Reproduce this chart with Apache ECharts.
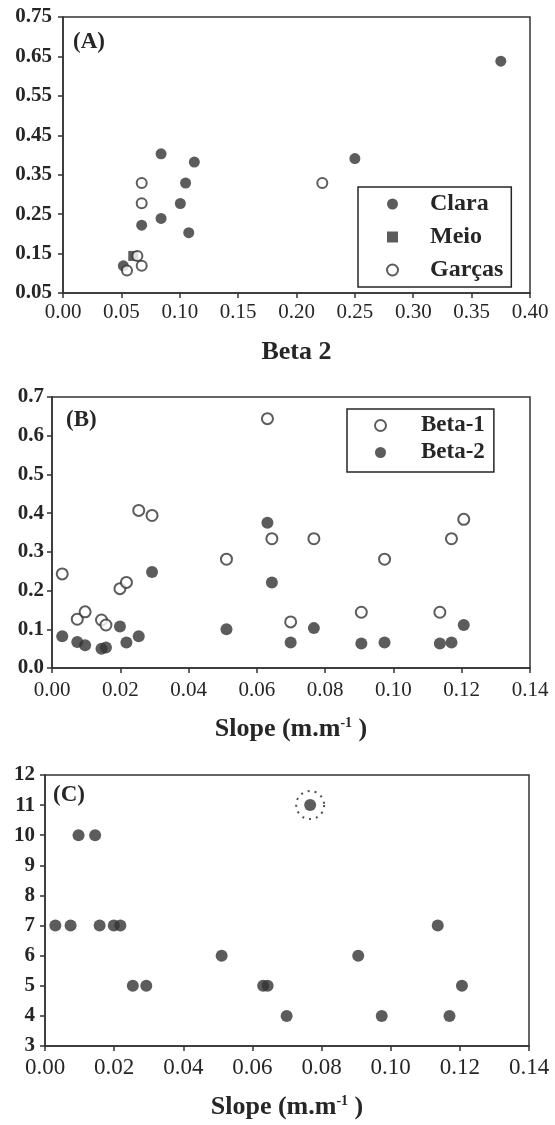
<!DOCTYPE html>
<html>
<head>
<meta charset="utf-8">
<script src="https://cdn.jsdelivr.net/npm/echarts@6/dist/echarts.min.js"></script>
<style>
  html, body { margin: 0; padding: 0; background: #fff; }
  #main { width: 555px; height: 1125px; }
</style>
</head>
<body>
<div id="main"></div>
<script>
// panel A: beta 2 (x) against beta 1 (y), one array per stream
var claraX = [0.084, 0.1125, 0.105, 0.1005, 0.084, 0.0674, 0.1077, 0.0517, 0.375, 0.250];
var claraY = [0.403, 0.382, 0.329, 0.277, 0.239, 0.222, 0.203, 0.119, 0.638, 0.391];
var meioX = [0.0602];
var meioY = [0.144];
var garcasX = [0.0674, 0.0674, 0.0637, 0.0674, 0.0548, 0.2221];
var garcasY = [0.329, 0.2775, 0.144, 0.119, 0.107, 0.329];

// panels B and C: one value per site, same slope for both panels
var slope = [0.0030, 0.0074, 0.0097, 0.0145, 0.0158, 0.0199, 0.0218, 0.0254, 0.0293, 0.0511,
             0.0631, 0.0644, 0.0699, 0.0767, 0.0906, 0.0974, 0.1136, 0.1170, 0.1206];
var beta1 = [0.243, 0.126, 0.145, 0.124, 0.111, 0.205, 0.221, 0.407, 0.394, 0.281,
             0.644, 0.334, 0.119, 0.334, 0.144, 0.281, 0.144, 0.334, 0.384];
var beta2 = [0.082, 0.067, 0.059, 0.050, 0.053, 0.107, 0.066, 0.082, 0.248, 0.100,
             0.375, 0.221, 0.066, 0.103, 0.063, 0.066, 0.063, 0.066, 0.111];
var panelC = [7, 7, 10, 10, 7, 7, 7, 5, 5, 6, 5, 5, 4, 11, 6, 4, 7, 4, 5];
var circledSite = 13; // the point with the dotted ring in (C)

function pairs(xs, ys) {
  return xs.map(function (x, i) { return [x, ys[i]]; });
}

var serif = "'Liberation Serif', 'Times New Roman', serif";
var ink = '#262626';
var dark = '#333333';
var square = 'path://M0,0H10V10H0Z';

function xAxisFor(idx, max, interval, digits, name, gap, labelSize, margin) {
  return {
    gridIndex: idx, type: 'value', min: 0, max: max, interval: interval,
    name: name, nameLocation: 'middle', nameGap: gap,
    nameTextStyle: { fontFamily: serif, fontWeight: 'bold', fontSize: 26, color: ink,
      rich: { sup: { fontFamily: serif, fontWeight: 'bold', fontSize: 14, color: ink, verticalAlign: 'top', padding: [0, 0, 12, 0] } } },
    axisLine: { show: true, onZero: false, lineStyle: { color: dark, width: 1.5 } },
    axisTick: { show: true, inside: false, length: 5, lineStyle: { color: dark, width: 1.5 } },
    axisLabel: { fontFamily: serif, fontSize: labelSize, color: ink, margin: margin,
      formatter: function (v) { return v.toFixed(digits); } },
    splitLine: { show: false }
  };
}

function yAxisFor(idx, min, max, interval, digits, margin) {
  return {
    gridIndex: idx, type: 'value', min: min, max: max, interval: interval,
    axisLine: { show: true, onZero: false, lineStyle: { color: dark, width: 1.5 } },
    axisTick: { show: true, inside: false, length: 5, lineStyle: { color: dark, width: 1.5 } },
    axisLabel: { fontFamily: serif, fontSize: 21, fontWeight: 'bold', color: ink, margin: margin,
      formatter: function (v) { return v.toFixed(digits); } },
    splitLine: { show: false }
  };
}

// legend: small square icon box, then a blank rich fragment to push the name right
function legendFor(names, left, top, pad, gap, spacer, size) {
  return {
    data: names,
    orient: 'vertical', left: left, top: top,
    padding: pad, itemWidth: 11, itemHeight: 11, itemGap: gap,
    borderColor: ink, borderWidth: 1.5, backgroundColor: '#ffffff',
    formatter: function (name) { return '{g|}' + name; },
    textStyle: { fontFamily: serif, fontWeight: 'bold', fontSize: size, color: ink,
      rich: { g: { width: spacer } } }
  };
}

var filled = { color: dark };
var hollow = { color: '#ffffff', borderColor: dark, borderWidth: 2 };

var chart = echarts.init(document.getElementById('main'), null, { renderer: 'canvas' });

var option = {
  backgroundColor: '#ffffff',
  animation: false,
  grid: [
    { left: 63, top: 17, width: 467, height: 276, show: true, borderColor: dark, borderWidth: 1.5 },
    { left: 52, top: 397, width: 478, height: 271, show: true, borderColor: dark, borderWidth: 1.5 },
    { left: 45, top: 775, width: 484, height: 271, show: true, borderColor: dark, borderWidth: 1.5 }
  ],
  xAxis: [
    xAxisFor(0, 0.40, 0.05, 2, 'Beta 2', 46, 21, 9),
    xAxisFor(1, 0.14, 0.02, 2, 'Slope (m.m{sup|-1} )', 48, 21, 12),
    xAxisFor(2, 0.14, 0.02, 2, 'Slope (m.m{sup|-1} )', 48, 23, 10)
  ],
  yAxis: [
    yAxisFor(0, 0.05, 0.75, 0.1, 2, 11),
    yAxisFor(1, 0, 0.7, 0.1, 1, 8),
    yAxisFor(2, 3, 12, 1, 0, 10)
  ],
  legend: [
    legendFor(['Clara', 'Meio', 'Garças'], 358, 187, [5, 8, 5, 28], 9, 27, 24),
    legendFor(['Beta-1', 'Beta-2'], 347, 409, [5, 9, 8, 27], 4, 30, 23)
  ],
  graphic: [
    { type: 'text', left: 73, top: 31, style: { text: '(A)', font: 'bold 23px ' + serif, fill: ink } },
    { type: 'text', left: 66, top: 409, style: { text: '(B)', font: 'bold 23px ' + serif, fill: ink } },
    { type: 'text', left: 53, top: 784, style: { text: '(C)', font: 'bold 23px ' + serif, fill: ink } }
  ],
  series: [
    { name: 'Clara', type: 'scatter', xAxisIndex: 0, yAxisIndex: 0, symbol: 'circle', symbolSize: 11,
      itemStyle: filled, data: pairs(claraX, claraY) },
    { name: 'Meio', type: 'scatter', xAxisIndex: 0, yAxisIndex: 0, symbol: square, symbolSize: 10,
      symbolKeepAspect: true, itemStyle: filled, data: pairs(meioX, meioY) },
    { name: 'Garças', type: 'scatter', xAxisIndex: 0, yAxisIndex: 0, symbol: 'circle', symbolSize: 10,
      itemStyle: hollow, data: pairs(garcasX, garcasY), z: 3 },
    { name: 'Beta-1', type: 'scatter', xAxisIndex: 1, yAxisIndex: 1, symbol: 'circle', symbolSize: 11,
      itemStyle: hollow, data: pairs(slope, beta1) },
    { name: 'Beta-2', type: 'scatter', xAxisIndex: 1, yAxisIndex: 1, symbol: 'circle', symbolSize: 12,
      itemStyle: filled, data: pairs(slope, beta2) },
    { name: 'sites', type: 'scatter', xAxisIndex: 2, yAxisIndex: 2, symbol: 'circle', symbolSize: 12,
      itemStyle: filled, data: pairs(slope, panelC) },
    { name: 'ring', type: 'scatter', xAxisIndex: 2, yAxisIndex: 2, symbol: 'circle', symbolSize: 28,
      itemStyle: { color: 'rgba(0,0,0,0)', borderColor: ink, borderWidth: 2, borderType: [2, 5] },
      data: [[slope[circledSite], panelC[circledSite]]], z: 1 }
  ]
};

chart.setOption(option);
</script>
</body>
</html>
